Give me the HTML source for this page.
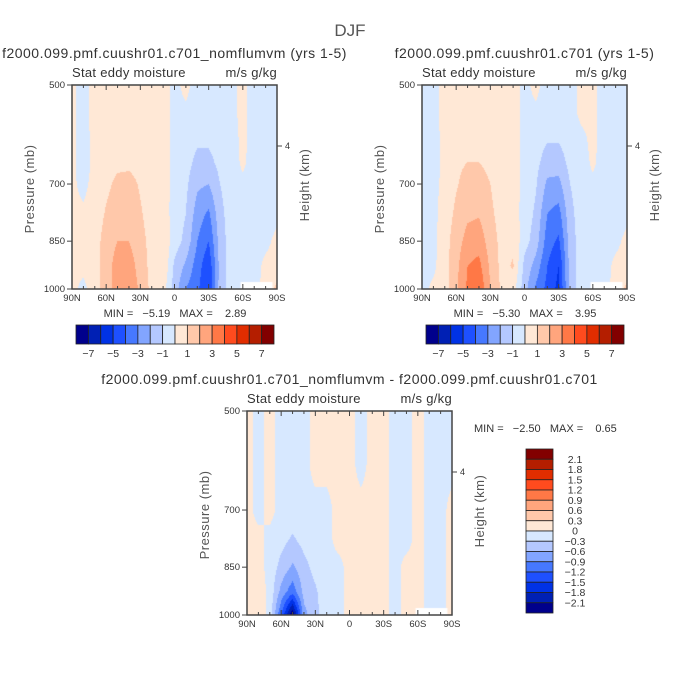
<!DOCTYPE html>
<html><head><meta charset="utf-8">
<style>
body{margin:0;background:#fff;width:700px;height:700px;overflow:hidden;position:relative;font-family:"Liberation Sans",sans-serif;color:#333}
canvas{position:absolute}
svg{position:absolute;left:0;top:0}
svg text{white-space:pre}
</style></head>
<body>
<canvas id="c1" width="205" height="204" style="left:72px;top:85px"></canvas>
<canvas id="c2" width="205" height="204" style="left:422px;top:85px"></canvas>
<canvas id="c3" width="205" height="204" style="left:247px;top:411px"></canvas>
<svg id="s" width="700" height="700"></svg>
<script>
const lats=["90N","80N","70N","60N","50N","40N","30N","20N","10N","EQ","10S","20S","30S","40S","50S","60S","70S","80S","90S"];
const pLevels=[500,550,600,650,700,775,850,925,1000];
const pLevels3=[500,550,600,700,775,850,925,1000];
const colors=["#00008c","#0020b4","#0032e6","#1e50ff","#4678ff","#82a5ff","#b4c8ff","#d7e8ff","#ffe8d6","#ffc8aa","#ffa57d","#ff7846","#ff4b1e","#e12d00","#b41e00","#820000"];
const bounds12=[-7,-6,-5,-4,-3,-2,-1,0,1,2,3,4,5,6,7];
const bounds3=[-2.1,-1.8,-1.5,-1.2,-0.9,-0.6,-0.3,0,0.3,0.6,0.9,1.2,1.5,1.8,2.1];
const field1=[
[0.3,-0.5,0.5,0.5,0.5,0.5,0.3,0.5,0.5,-0.3,0.3,-0.5,-0.5,-0.5,-0.3,0.3,-0.5,-0.5,-0.5],
[0.3,-0.5,0.5,0.5,0.5,0.5,0.4,0.5,0.5,-0.3,-0.2,-0.5,-0.5,-0.5,-0.3,0.3,-0.5,-0.5,-0.5],
[0.3,-0.5,0.4,0.6,0.6,0.6,0.6,0.5,0.5,-0.3,-0.5,-0.8,-0.8,-0.5,-0.5,0.3,-0.5,-0.5,-0.5],
[0.3,-0.5,0.3,0.7,0.8,0.8,0.7,0.5,0.4,-0.3,-0.6,-1.3,-1.3,-0.7,-0.5,0.2,-0.5,-0.5,-0.5],
[0.2,-0.3,0.4,0.8,1.2,1.3,0.9,0.5,0.4,-0.3,-0.8,-1.8,-2.0,-1.0,-0.5,-0.2,-0.5,-0.5,-0.5],
[0.3,0.2,0.5,1.1,1.5,1.6,1.1,0.6,0.5,-0.4,-1.0,-2.5,-3.2,-1.3,-0.5,-0.5,-0.5,-0.5,-0.3],
[0.3,0.3,0.6,1.4,2.0,2.0,1.3,0.7,0.8,-0.5,-1.3,-3.0,-4.0,-1.5,-0.5,-0.5,-0.5,-0.3,0.3],
[0.3,0.3,0.6,1.5,2.5,2.6,1.5,0.7,0.9,-1.2,-2.2,-3.5,-4.8,-1.6,-0.5,-0.5,-0.5,0.3,0.5],
[0.3,-0.3,0.6,1.5,2.5,2.8,1.8,0.7,0.5,-1.5,-3.0,-3.8,-5.0,-1.5,-0.5,-0.5,-0.5,0.5,1.2]];
const field2=[
[-0.3,-0.5,0.5,0.5,0.5,0.5,0.3,0.5,0.5,-0.3,0.3,-0.5,-0.5,-0.5,0.3,0.3,-0.5,-0.5,-0.5],
[-0.3,-0.5,0.5,0.5,0.5,0.5,0.4,0.5,0.5,-0.3,-0.2,-0.5,-0.5,-0.5,0.3,0.3,-0.5,-0.5,-0.5],
[-0.3,-0.5,0.4,0.6,0.7,0.7,0.6,0.5,0.5,-0.3,-0.5,-0.9,-0.9,-0.5,-0.3,0.3,-0.5,-0.5,-0.5],
[-0.3,-0.5,0.3,0.8,1.0,1.0,0.7,0.5,0.4,-0.3,-0.7,-1.5,-1.5,-0.7,-0.5,0.2,-0.5,-0.5,-0.5],
[-0.3,-0.4,0.4,0.9,1.4,1.5,1.0,0.5,0.4,-0.3,-0.9,-2.2,-2.3,-1.0,-0.5,-0.2,-0.5,-0.5,-0.5],
[-0.3,-0.3,0.5,1.2,1.8,1.9,1.2,0.6,0.5,-0.4,-1.2,-3.0,-3.4,-1.3,-0.5,-0.5,-0.5,-0.5,-0.3],
[-0.3,-0.3,0.6,1.5,2.4,2.6,1.5,0.7,0.8,-0.6,-1.5,-3.5,-4.2,-1.5,-0.5,-0.5,-0.5,-0.3,0.3],
[-0.3,-0.2,0.6,1.7,3.0,3.3,1.8,0.7,1.1,-1.3,-2.4,-4.0,-5.0,-1.6,-0.5,-0.5,-0.5,0.3,0.5],
[-0.3,0.2,0.6,1.8,3.2,3.9,2.0,0.8,0.5,-1.6,-3.2,-4.3,-5.3,-1.5,-0.5,-0.5,-0.5,0.5,1.2]];
const field3=[
[0.1,-0.1,0.1,-0.1,-0.1,-0.1,0.1,0.1,0.1,0.1,-0.1,0.1,0.1,-0.1,-0.1,0.1,-0.1,-0.1,-0.1],
[0.1,-0.1,0.1,-0.1,-0.1,-0.1,0.1,0.1,0.1,0.1,-0.1,0.1,0.1,-0.1,-0.1,0.1,-0.1,-0.1,-0.1],
[0.1,-0.1,0.1,-0.1,-0.1,-0.1,0.1,0.1,0.1,0.1,-0.1,0.1,0.1,-0.1,-0.1,0.1,-0.1,-0.1,-0.1],
[0.1,-0.1,0.1,-0.1,-0.1,-0.1,-0.1,-0.1,0.1,0.1,0.1,0.1,0.1,-0.1,-0.1,0.1,-0.1,-0.1,0.1],
[0.1,0.1,-0.1,-0.2,-0.35,-0.2,-0.1,-0.1,0.1,0.1,0.1,0.1,0.1,-0.1,-0.1,0.1,-0.1,-0.1,0.1],
[0.1,0.1,-0.1,-0.4,-0.65,-0.4,-0.2,-0.1,-0.1,0.1,0.1,0.1,0.1,-0.1,0.1,0.1,-0.1,-0.1,0.1],
[0.1,0.2,-0.1,-0.7,-1.1,-0.5,-0.35,-0.1,-0.1,0.1,0.1,0.1,0.1,-0.1,0.1,0.1,-0.1,-0.1,0.1],
[0.1,0.2,-0.1,-1.2,-2.4,-0.7,-0.4,-0.1,-0.1,0.1,0.1,0.1,0.1,-0.1,0.1,0.1,-0.1,-0.1,0.1]];

const W=205,H=204;
function yOfP(p){return Math.log(p/500)/Math.log(2)*H;}
function xOfLat(i){return i/(lats.length-1)*W;}
function colorFor(v,b){let k=0;while(k<b.length&&v>=b[k])k++;return colors[k];}
function hex(c){return [parseInt(c.substr(1,2),16),parseInt(c.substr(3,2),16),parseInt(c.substr(5,2),16)];}
function drawField(id,field,levels,bounds){
  const ctx=document.getElementById(id).getContext('2d');
  const img=ctx.createImageData(W,H);
  const ys=levels.map(yOfP);
  for(let py=0;py<H;py++){
    const y=py+0.5;let r=0;while(r<ys.length-2&&y>ys[r+1])r++;
    const ty=Math.min(1,Math.max(0,(y-ys[r])/(ys[r+1]-ys[r])));
    for(let px=0;px<W;px++){
      const fx=(px+0.5)/W*(lats.length-1);let c=Math.min(lats.length-2,Math.floor(fx));const tx=fx-c;
      const v=(field[r][c]*(1-tx)+field[r][c+1]*tx)*(1-ty)+(field[r+1][c]*(1-tx)+field[r+1][c+1]*tx)*ty;
      const rgb=hex(colorFor(v,bounds));const o=(py*W+px)*4;
      img.data[o]=rgb[0];img.data[o+1]=rgb[1];img.data[o+2]=rgb[2];img.data[o+3]=255;
    }
  }
  ctx.putImageData(img,0,0);
  ctx.fillStyle='#fff';
  ctx.fillRect(xOfLat(14.8),H-7,xOfLat(17.6)-xOfLat(14.8),7);
}
drawField('c1',field1,pLevels,bounds12);
drawField('c2',field2,pLevels,bounds12);
drawField('c3',field3,pLevels3,bounds3);

const svg=document.getElementById('s');const NS='http://www.w3.org/2000/svg';
function el(t,a,txt){const e=document.createElementNS(NS,t);for(const k in a)e.setAttribute(k,a[k]);if(txt!==undefined)e.textContent=txt;svg.appendChild(e);return e;}
const tickLabels=["90N","60N","30N","0","30S","60S","90S"];
const pTicks=[500,700,850,1000];
function frame(x0,y0,name,sub){
  let t;
  t=el('text',{x:x0+W/2,y:y0-27,'font-size':14,'letter-spacing':0.5,'text-anchor':'middle',fill:'#333'},sub);
  
  t=el('text',{x:x0,y:y0-8,'font-size':13,'letter-spacing':0.3,fill:'#333'},'Stat eddy moisture');
  
  t=el('text',{x:x0+W,y:y0-8,'font-size':13,'letter-spacing':0.3,'text-anchor':'end',fill:'#333'},'m/s g/kg');
  
  const r=el('rect',{x:x0,y:y0,width:W,height:H,fill:'none',stroke:'#444','stroke-width':1.5});
  
  for(let i=0;i<lats.length;i++){const x=x0+xOfLat(i);const L=(i%3===0)?5:3;
    el('line',{x1:x,y1:y0,x2:x,y2:y0+L,stroke:'#444'});el('line',{x1:x,y1:y0+H,x2:x,y2:y0+H-L,stroke:'#444'});}
  tickLabels.forEach((s,k)=>{const lb=el('text',{x:x0+xOfLat(k*3),y:y0+H+12,'font-size':9.5,'text-anchor':'middle',fill:'#333'},s);
    });
  pTicks.forEach(p=>{const y=y0+yOfP(p);el('line',{x1:x0-5,y1:y,x2:x0,y2:y,stroke:'#444'});
    const lb=el('text',{x:x0-7,y:y+3,'font-size':9.5,'text-anchor':'end',fill:'#333'},p);
    });
  const hy=y0+61;el('line',{x1:x0+W,y1:hy,x2:x0+W+5,y2:hy,stroke:'#444'});
  el('text',{x:x0+W+8,y:hy+3,'font-size':9,fill:'#333'},'4');
  t=el('text',{transform:`translate(${x0-38},${y0+H/2+2}) rotate(-90)`,'font-size':13,'letter-spacing':0.5,'text-anchor':'middle',fill:'#555'},'Pressure (mb)');
  
  t=el('text',{transform:`translate(${x0+W+32},${y0+100}) rotate(-90)`,'font-size':13,'letter-spacing':0.5,'text-anchor':'middle',fill:'#555'},'Height (km)');
  
}
let tt=el('text',{x:350,y:36,'font-size':17,'text-anchor':'middle',fill:'#555'},'DJF');

frame(72,85,'panel-control','f2000.099.pmf.cuushr01.c701_nomflumvm (yrs 1-5)');
frame(422,85,'panel-experiment','f2000.099.pmf.cuushr01.c701 (yrs 1-5)');
frame(247,411,'panel-difference','f2000.099.pmf.cuushr01.c701_nomflumvm - f2000.099.pmf.cuushr01.c701');
function minmax(x,y,txt,anchor){const t=el('text',{x:x,y:y,'font-size':11,'text-anchor':anchor,fill:'#333'},txt);
  }
minmax(175,317,'MIN =   \u22125.19   MAX =    2.89','middle');
minmax(525,317,'MIN =   \u22125.30   MAX =    3.95','middle');
minmax(474,432,'MIN =   \u22122.50   MAX =    0.65','start');
const hLabels=["-7","-5","-3","-1","1","3","5","7"];
function hbar(x0,y0){const bw=198/16;
  colors.forEach((c,i)=>{const r=el('rect',{x:x0+i*bw,y:y0,width:bw,height:19,fill:c,stroke:'#222','stroke-width':0.8});
    });
  hLabels.forEach((s,k)=>{const t=el('text',{x:x0+(2*k+1)*bw,y:y0+32,'font-size':10.5,'text-anchor':'middle',fill:'#333'},s.replace('-','\u2212'));
    });}
hbar(76,325);hbar(426,325);
const vLabels=["2.1","1.8","1.5","1.2","0.9","0.6","0.3","0","-0.3","-0.6","-0.9","-1.2","-1.5","-1.8","-2.1"];
const vh=164/16;
colors.slice().reverse().forEach((c,i)=>{const r=el('rect',{x:526,y:449+i*vh,width:27,height:vh,fill:c,stroke:'#222','stroke-width':0.8});
  });
vLabels.forEach((s,k)=>{const t=el('text',{x:575,y:449+(k+1)*vh+3.5,'font-size':10.5,'text-anchor':'middle',fill:'#333'},s.replace('-','\u2212'));
  });
</script>
</body></html>
